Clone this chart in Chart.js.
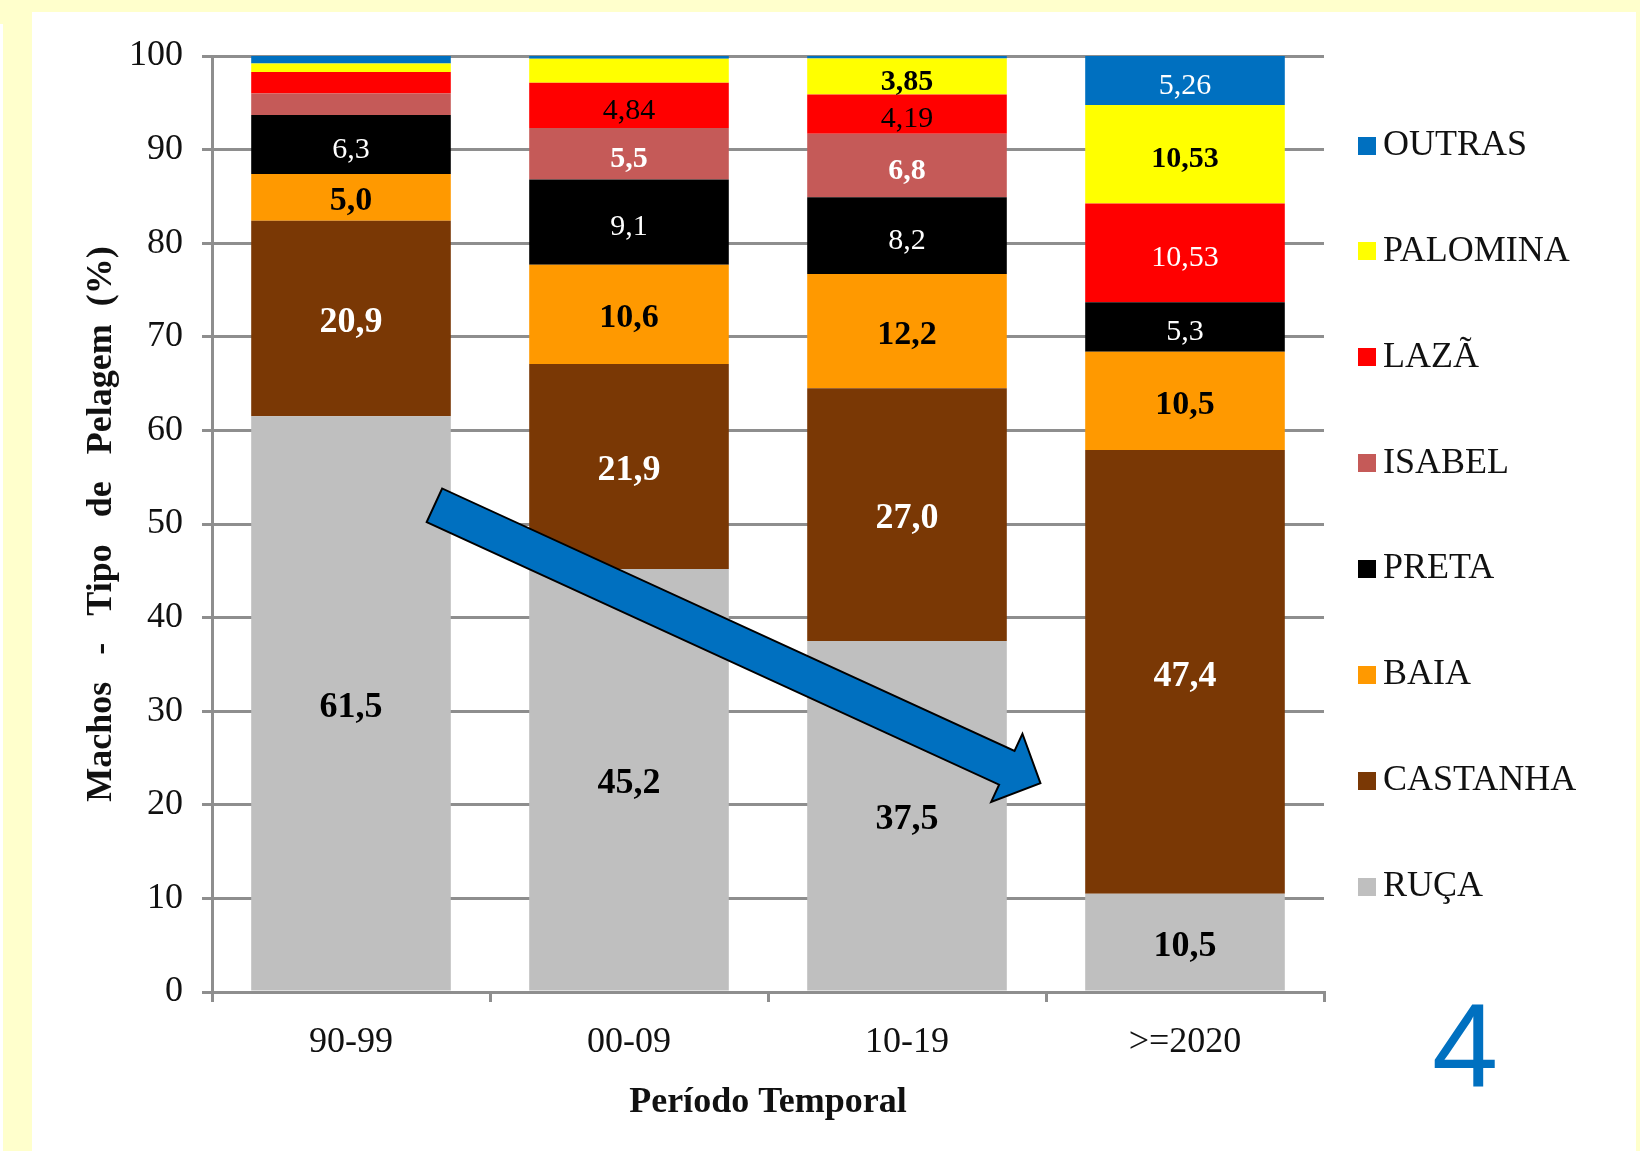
<!DOCTYPE html>
<html>
<head>
<meta charset="utf-8">
<title>Machos - Tipo de Pelagem</title>
<script src="https://cdn.jsdelivr.net/npm/chart.js@4/dist/chart.umd.min.js"></script>
<style>
  html, body { margin: 0; padding: 0; width: 1640px; height: 1151px; overflow: hidden; background: #FFFFCC; }
  #panel { position: absolute; left: 32px; top: 12px; width: 1604px; height: 1139px; background: #ffffff; }
  #edge { position: absolute; left: 0; top: 24px; width: 3px; height: 1127px; background: #ffffff; }
  #slide { position: absolute; left: 1432px; top: 986px; font: 119px "Liberation Sans", Arial, sans-serif; line-height: 1; color: #0070C0; }
  canvas { display: block; }
</style>
</head>
<body>
<div id="edge"></div>
<div id="panel"><canvas id="chart" width="1604" height="1139" style="width:1604px;height:1139px"></canvas></div>
<div id="slide">4</div>
<script>
// Periods on the x axis
const PERIODS = ['90-99', '00-09', '10-19', '>=2020'];

// Share (%) of each coat colour per period, bottom of the stack first
const RUCA     = [61.5, 45.2, 37.5, 10.5];
const CASTANHA = [20.9, 21.9, 27.0, 47.4];
const BAIA     = [5.0, 10.6, 12.2, 10.5];
const PRETA    = [6.3, 9.1, 8.2, 5.3];
const ISABEL   = [2.3, 5.5, 6.8, 0];
const LAZA     = [2.3, 4.84, 4.19, 10.53];
const PALOMINA = [0.9, 2.56, 3.85, 10.53];
const OUTRAS   = [0.8, 0.3, 0.26, 5.26];

// Decimals shown in each segment label (null = no label)
const DEC_RUCA     = [1, 1, 1, 1];
const DEC_CASTANHA = [1, 1, 1, 1];
const DEC_BAIA     = [1, 1, 1, 1];
const DEC_PRETA    = [1, 1, 1, 1];
const DEC_ISABEL   = [null, 1, 1, null];
const DEC_LAZA     = [null, 2, 2, 2];
const DEC_PALOMINA = [null, null, 2, 2];
const DEC_OUTRAS   = [null, null, null, 2];

// Y axis tick values
const Y_TICKS = [0, 10, 20, 30, 40, 50, 60, 70, 80, 90, 100];

// Trend arrow, in (category index, %) coordinates
const ARROW_FROM = [0.30, 52.0];
const ARROW_TO   = [2.48, 22.3];

const SERIF = '"Liberation Serif", "Times New Roman", serif';

const SERIES = [
  { name: 'RUÇA',     data: RUCA,     dec: DEC_RUCA,     color: '#BFBFBF', label: () => ({ c: '#000', w: 'bold', s: 36 }) },
  { name: 'CASTANHA', data: CASTANHA, dec: DEC_CASTANHA, color: '#7A3805', label: () => ({ c: '#fff', w: 'bold', s: 36 }) },
  { name: 'BAIA',     data: BAIA,     dec: DEC_BAIA,     color: '#FF9900', label: () => ({ c: '#000', w: 'bold', s: 34 }) },
  { name: 'PRETA',    data: PRETA,    dec: DEC_PRETA,    color: '#000000', label: () => ({ c: '#fff', w: 'normal', s: 30 }) },
  { name: 'ISABEL',   data: ISABEL,   dec: DEC_ISABEL,   color: '#C55A58', label: () => ({ c: '#fff', w: 'bold', s: 30 }) },
  { name: 'LAZÃ',     data: LAZA,     dec: DEC_LAZA,     color: '#FF0000', label: (j) => ({ c: j === 3 ? '#fff' : '#000', w: 'normal', s: 30 }) },
  { name: 'PALOMINA', data: PALOMINA, dec: DEC_PALOMINA, color: '#FFFF00', label: () => ({ c: '#000', w: 'bold', s: 30 }) },
  { name: 'OUTRAS',   data: OUTRAS,   dec: DEC_OUTRAS,   color: '#0070C0', label: () => ({ c: '#fff', w: 'normal', s: 30 }) }
];

const GRID = '#8E8E8E';
const CANVAS_W = 1604;
const PLOT_RIGHT = 1292;          // right edge of the plotting area
const LEGEND_FONT = 36, LEGEND_PAD = 34, SWATCH_W = 7;

// Right padding so the legend starts exactly at the plot's right edge
function legendRightPadding() {
  const g = document.createElement('canvas').getContext('2d');
  g.font = LEGEND_FONT + 'px ' + SERIF;
  const widest = Math.max(...SERIES.map(s => g.measureText(s.name).width));
  const legendW = LEGEND_PAD + SWATCH_W + LEGEND_FONT / 2 + widest + 10;
  return Math.max(0, CANVAS_W - PLOT_RIGHT - legendW);
}

// Small square swatch for the legend, offset to sit close to its text
function swatch(color) {
  const c = document.createElement('canvas');
  c.width = 29; c.height = 18;
  const g = c.getContext('2d');
  g.fillStyle = color;
  g.fillRect(11, 0, 18, 18);
  return c;
}

// Value labels centred inside each stacked segment
const segmentLabels = {
  id: 'segmentLabels',
  afterDatasetsDraw(chart) {
    const ctx = chart.ctx;
    ctx.save();
    ctx.textAlign = 'center';
    ctx.textBaseline = 'alphabetic';
    chart.data.datasets.forEach((ds, i) => {
      const meta = chart.getDatasetMeta(i);
      const s = SERIES[i];
      meta.data.forEach((el, j) => {
        const d = s.dec[j];
        const v = s.data[j];
        if (d === null || !v) return;
        const { x, y, base } = el.getProps(['x', 'y', 'base'], true);
        const st = s.label(j);
        ctx.font = st.w + ' ' + st.s + 'px ' + SERIF;
        ctx.fillStyle = st.c;
        const text = v.toFixed(d).replace('.', ',');
        const drop = st.s * 0.338 + (st.s <= 30 ? 3 : 1.5);
        ctx.fillText(text, x, (y + base) / 2 + drop);
      });
    });
    ctx.restore();
  }
};

// Block arrow showing the downward trend
const trendArrow = {
  id: 'trendArrow',
  afterDatasetsDraw(chart) {
    const { ctx, scales: { x, y } } = chart;
    const x0 = x.getPixelForValue(ARROW_FROM[0]), y0 = y.getPixelForValue(ARROW_FROM[1]);
    const x1 = x.getPixelForValue(ARROW_TO[0]),   y1 = y.getPixelForValue(ARROW_TO[1]);
    const dx = x1 - x0, dy = y1 - y0, len = Math.hypot(dx, dy);
    const ux = dx / len, uy = dy / len, nx = -uy, ny = ux;
    const shaft = 18.5, head = 37.5, headLen = 37;
    const bx = x1 - ux * headLen, by = y1 - uy * headLen;
    const pts = [
      [x0 + nx * shaft, y0 + ny * shaft],
      [bx + nx * shaft, by + ny * shaft],
      [bx + nx * head,  by + ny * head],
      [x1, y1],
      [bx - nx * head,  by - ny * head],
      [bx - nx * shaft, by - ny * shaft],
      [x0 - nx * shaft, y0 - ny * shaft]
    ];
    ctx.save();
    ctx.beginPath();
    pts.forEach((p, k) => k ? ctx.lineTo(p[0], p[1]) : ctx.moveTo(p[0], p[1]));
    ctx.closePath();
    ctx.fillStyle = '#0070C0';
    ctx.fill();
    ctx.lineWidth = 2;
    ctx.lineJoin = 'miter';
    ctx.strokeStyle = '#000';
    ctx.stroke();
    ctx.restore();
  }
};

new Chart(document.getElementById('chart'), {
  type: 'bar',
  data: {
    labels: PERIODS,
    datasets: SERIES.map(s => ({
      label: s.name,
      data: s.data,
      backgroundColor: s.color,
      borderWidth: 0,
      barPercentage: 0.718,
      categoryPercentage: 1.0
    }))
  },
  options: {
    responsive: false,
    animation: false,
    layout: { padding: { top: 44, left: 0, right: legendRightPadding(), bottom: 0 } },
    scales: {
      x: {
        stacked: true,
        grid: { drawOnChartArea: false, drawTicks: true, tickLength: 10, color: GRID, lineWidth: 3 },
        border: { color: GRID, width: 3 },
        ticks: { color: '#111', padding: 19, font: { family: SERIF, size: 36 } },
        title: {
          display: true, text: 'Período Temporal', color: '#111',
          font: { family: SERIF, size: 36, weight: 'bold' },
          padding: { top: 0, bottom: 27 }
        },
        afterFit(scale) { scale.height = 159; }
      },
      y: {
        stacked: true,
        min: 0, max: 100,
        afterBuildTicks(scale) { scale.ticks = Y_TICKS.map(v => ({ value: v })); },
        grid: { color: GRID, lineWidth: 3, tickLength: 10 },
        border: { color: GRID, width: 3 },
        ticks: { color: '#111', padding: 19, font: { family: SERIF, size: 36 } },
        title: {
          display: true, text: 'Machos   -   Tipo   de   Pelagem  (%)', color: '#111',
          font: { family: SERIF, size: 36, weight: 'bold' },
          padding: { top: 48, bottom: 0 }
        },
        afterFit(scale) { scale.width = 180; }
      }
    },
    plugins: {
      tooltip: { enabled: false },
      legend: {
        position: 'right',
        align: 'center',
        fullSize: false,
        reverse: true,
        title: { display: true, text: '', font: { size: 2, lineHeight: 1 }, padding: { top: 18, bottom: 0 } },
        labels: {
          color: '#111',
          font: { family: SERIF, size: LEGEND_FONT, lineHeight: 1.996 },
          padding: LEGEND_PAD,
          usePointStyle: true,
          pointStyleWidth: SWATCH_W,
          boxHeight: 18,
          generateLabels(chart) {
            const items = Chart.defaults.plugins.legend.labels.generateLabels(chart);
            return items.map(it => Object.assign(it, {
              text: [it.text],
              pointStyle: swatch(it.fillStyle),
              lineWidth: 0
            }));
          }
        }
      }
    }
  },
  plugins: [segmentLabels, trendArrow]
});
</script>
</body>
</html>
